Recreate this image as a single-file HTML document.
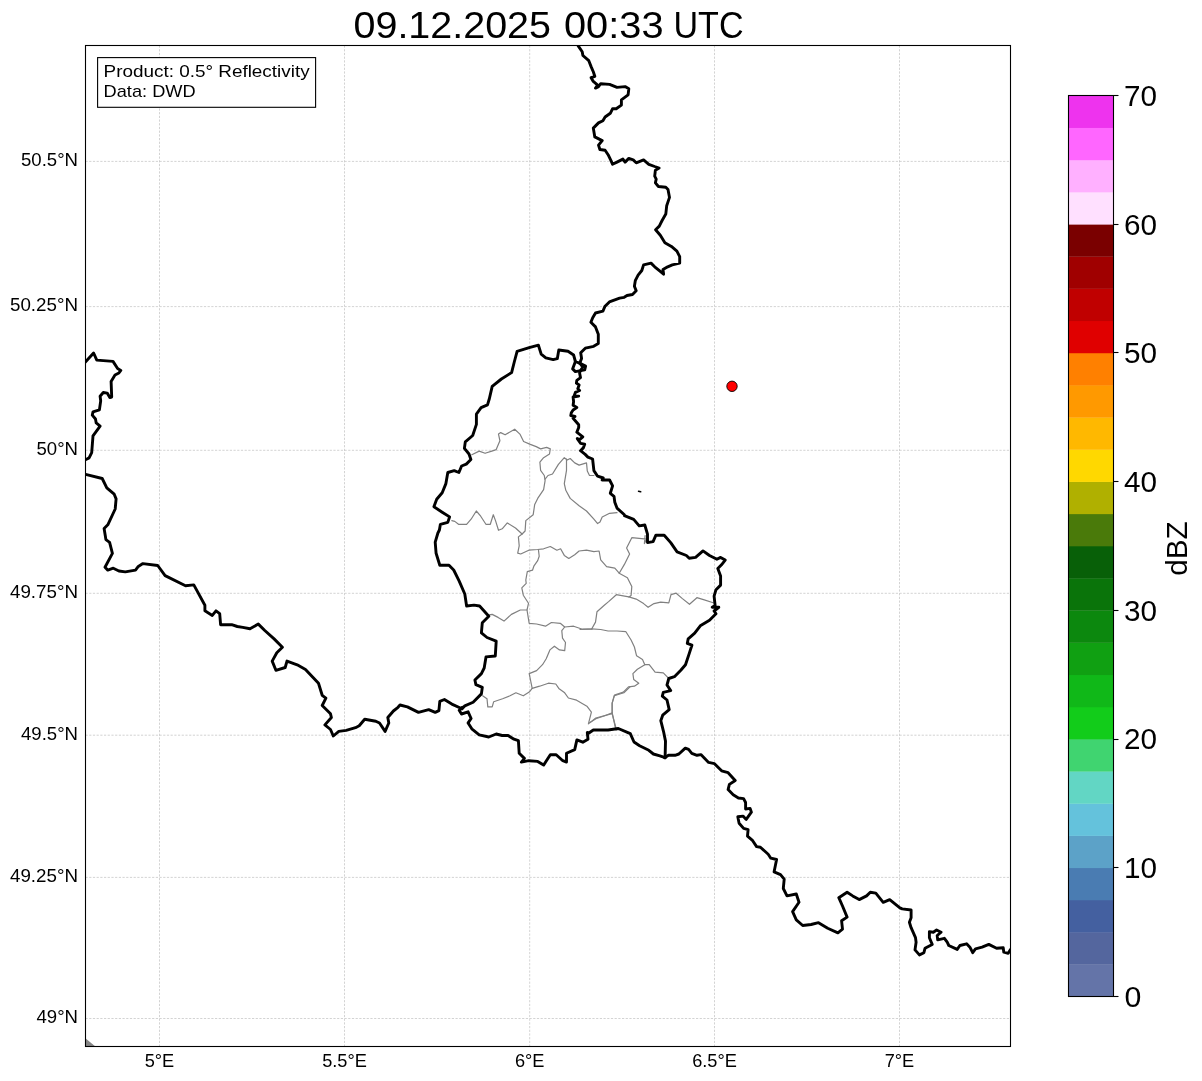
<!DOCTYPE html><html><head><meta charset="utf-8"><style>html,body{margin:0;padding:0;background:#fff;overflow:hidden}svg{display:block;will-change:transform}</style></head><body><svg width="1202" height="1081" viewBox="0 0 1202 1081"><rect width="100%" height="100%" fill="#fff"/><defs><clipPath id="ax"><rect x="85.5" y="45.5" width="925" height="1001"/></clipPath></defs><g stroke="#c8c8c8" stroke-width="0.8" stroke-dasharray="2.2 1.5" fill="none"><line x1="159.5" y1="45.5" x2="159.5" y2="1046.5"/><line x1="344.5" y1="45.5" x2="344.5" y2="1046.5"/><line x1="529.7" y1="45.5" x2="529.7" y2="1046.5"/><line x1="714.5" y1="45.5" x2="714.5" y2="1046.5"/><line x1="899.5" y1="45.5" x2="899.5" y2="1046.5"/><line x1="85.5" y1="161.4" x2="1010.5" y2="161.4"/><line x1="85.5" y1="306.6" x2="1010.5" y2="306.6"/><line x1="85.5" y1="450.3" x2="1010.5" y2="450.3"/><line x1="85.5" y1="593.3" x2="1010.5" y2="593.3"/><line x1="85.5" y1="735.2" x2="1010.5" y2="735.2"/><line x1="85.5" y1="877.4" x2="1010.5" y2="877.4"/><line x1="85.5" y1="1018.5" x2="1010.5" y2="1018.5"/></g><g clip-path="url(#ax)" fill="none" stroke-linejoin="round" stroke-linecap="round"><path d="M471.8,454.8 L479.2,451.1 L485.1,453.3 L491.8,451.1 L496.2,449.6 L499.9,440.7 L498.5,434.1 L500.7,432.6 L505.1,434.8 L514.7,429.2 L519.9,434.1 L523.6,441.5 L530.3,444.4 L536.2,446.6 L540.6,448.9 L546.6,447.4 L550.3,448.9 L549.5,454 L543.6,457.7 L539.9,462.2 L540.6,470.3 L544.3,475.5 L545.1,480.7 L543.6,489.6 L537.7,498.4 L534.7,504.4 L533.2,514.7 L525.8,520.6 L525.1,531 L522.1,534" stroke="#808080" stroke-width="1.2"/><path d="M545.1,479.2 L548,475.5 L552.5,474 L558.4,464.4 L564.3,457.7 L567.3,460 L570.2,458.5 L574.7,462.9 L579.1,465.1 L586.5,462.9 L587.3,471.1 L589.5,475.5 L593.9,475.5" stroke="#808080" stroke-width="1.2"/><path d="M566.5,459.2 L566.5,470.3 L564.3,483.6 L565.8,490.3 L570.2,498.4 L579.1,505.8 L586.5,511 L593.9,519.2 L597.6,523.6 L600,522.1 L602.2,517 L609.6,513.3 L617,512.6" stroke="#808080" stroke-width="1.2"/><path d="M451.8,520.6 L454.8,521.4 L458.5,524.3 L466.6,524.3 L471.1,519.2 L476.3,511 L480.7,516.2 L485.9,524.3 L490.3,524.3 L493.3,514.7 L495.5,520.6 L498.5,530.3 L502.2,528.8 L507.3,522.9 L515.5,528 L522.1,534 L518.4,536.9 L519.2,545.8 L517.7,553.2 L520.7,554 L528.8,550.2 L537.7,549.5 L543.6,548.8 L550.3,546.5 L556.9,550.2 L560.6,548.8 L564.3,555.4 L568.8,558.4 L574.7,554.7 L579.1,551 L586.5,550.2 L593.9,551.7 L599.1,551 L600.7,559.9 L606.6,566.6 L614.8,568.1 L619.2,573.2 L627.4,577.7 L631.8,586.6 L631.1,595.4 L628.8,596.9 L636.2,599.1 L643.6,603.6 L648.1,607.3 L654,603.6 L660.7,602.1 L668.8,602.8 L671,594.7 L676.2,593.2 L682.1,598.4 L689.5,604.3 L696.9,597.7 L704.3,599.9 L713.2,602.8" stroke="#808080" stroke-width="1.2"/><path d="M538.4,549.5 L539.2,556.2 L537.7,560.6 L534,565.8 L532.5,570.2 L527.3,571.7 L525.8,580 L526.2,583.3 L521.8,587.8 L523.3,595.2 L528.5,603.3 L527,610 L529.2,623.3 L536.6,624 L545.5,626.2 L551.4,622.5 L560.3,623.3 L564.7,627 L573.6,626.2 L582.5,629.2 L592.1,629.2" stroke="#808080" stroke-width="1.2"/><path d="M645.1,535.5 L644.4,543.6 L646.6,539.2 L631.8,537.7 L626.6,548.1 L629.6,554 L624.4,564.4 L619.2,573.2" stroke="#808080" stroke-width="1.2"/><path d="M628.8,596.9 L616.3,594.7 L608.9,601.4 L603.7,605.8 L597,611.7 L595.5,622.1 L591.8,628.8 L580,629.5" stroke="#808080" stroke-width="1.2"/><path d="M591.8,628.8 L600.7,629.5 L608.1,631 L617,631 L625.9,631.7 L631.1,640 L634.4,647 L636.6,655.8 L642.5,659.5 L644.8,664.7 L649.2,664.7 L655.1,672.1 L663.3,672.9 L669.2,678.8" stroke="#808080" stroke-width="1.2"/><path d="M487.8,615.1 L492.2,614.4 L498.1,617.4 L504,621.1 L511.4,614.4 L520.3,610 L527,610" stroke="#808080" stroke-width="1.2"/><path d="M564.7,627 L561.8,630.7 L562.5,638.1 L565.5,642.5 L564.7,650.7 L559.5,649.9 L554.4,646.2 L549.9,649.9 L546.2,658.8 L542.5,664.7 L536.6,670.6 L529.2,673.6 L530.7,681 L532.2,688.4" stroke="#808080" stroke-width="1.2"/><path d="M532.2,688.4 L529.2,692.1 L523.3,695.8 L515.9,692.8 L510,695.8 L502.6,698.8 L493.7,701.7 L492.2,706.9 L487.8,706.9 L487,698.8 L482.6,695.8" stroke="#808080" stroke-width="1.2"/><path d="M532.2,688.4 L539.6,686.2 L548.4,683.2 L555.8,684 L558.8,688.4 L564.7,692.8 L568.4,698 L576.6,700.2 L586.9,706.2 L591.4,712.1 L588.4,723.9 L595.8,718 L612.1,713.6 L616.5,730" stroke="#808080" stroke-width="1.2"/><path d="M612.1,713.6 L612.1,703.2 L614.3,695.8 L623.9,692.8 L630,686.9" stroke="#808080" stroke-width="1.2"/><path d="M644.8,664.7 L637.4,669.2 L632.9,673.6 L633.7,679.5 L638.8,683.2 L634.4,686.2 L628.5,686.9 L623.3,692.1 L614.4,695.1 L612.2,703.2 L612.2,712.8 L615.9,730" stroke="#808080" stroke-width="1.2"/><path d="M612.2,712.8 L604.8,715.8 L595.9,718.8 L590,722.5" stroke="#808080" stroke-width="1.2"/><path d="M578.2,45.9 L582.2,51.8 L582.9,55.5 L588.8,60.7 L591.1,66.6 L593.3,71.8 L594.8,76.3 L591.1,77.7 L593.3,81.4 L597.7,85.1 L595.5,88.1 L598.5,86.6 L600.7,83.7 L609.6,84.4 L617,87.4 L625.1,86.6 L628.8,88.8 L628.1,94.8 L621.4,99.9 L621.4,105.1 L616.2,108.8 L612.5,108.8 L610.3,113.3 L605.1,117 L602.9,120.7 L598.5,122.9 L593.3,128.1 L594.8,136.9 L602.2,140.6 L598.5,145.1 L599.9,149.5 L605.1,150.3 L608.1,154.7 L611,160.6 L612.5,164.3 L617,162.1 L622.9,159.1 L625.1,162.1 L628.8,158.4 L633.2,159.9 L636.2,162.8 L643.6,159.9 L648.8,164.3 L654.7,166.5 L659.1,168 L655.4,170.2 L654.7,176.2 L656.2,179.1 L655.4,182.8 L658.4,186.5 L665.8,187.3 L668,189.5 L669.5,197.4 L666.7,205.7 L665.8,214.1 L662.1,220.5 L659.3,226.1 L655.6,229.8 L660.3,235.3 L664.9,242.7 L671.4,246.4 L676.9,251.1 L679.7,256.6 L679.7,263.1 L672.3,264.9 L667.7,266.8 L663,269.6 L663.6,274.2 L660.3,271.4 L654.7,266.8 L651,263.1 L643.6,264.9 L641.8,270.5 L638.1,275.1 L635.3,280.7 L634.4,286.2 L636.2,290.8 L632.5,294.5 L627,295.5 L624.2,297.3 L619.6,298.2 L609.4,301.9 L604.8,306.6 L602.9,311.2 L595.5,313 L592.7,317.7 L590.9,322.3 L595.5,326.9 L598.3,334.3 L598.3,343.6 L593.7,346.3 L589,347.3 L585.3,348.2 L583.5,350 L580.7,352.8 L581.6,358.4 L579.8,363" stroke="#000" stroke-width="2.9"/><path d="M580,363.3 L575.4,361.5 L573.6,355 L568,351.3 L558.8,350 L557.3,358.7 L553.2,359.6 L545.8,357.8 L541.2,354.1 L538.4,345.2 L529.2,347.6 L517.1,351.3 L514.4,361.5 L511.6,372.6 L501.4,379 L492.2,386.4 L489.4,398.5 L487.5,404.9 L481.1,407.7 L476.4,414.2 L476.4,424.4 L472.7,435.5 L465.3,441.9 L464.4,448.4 L469,454 L470.9,459.5 L466.3,464.1 L461.6,466 L458.9,472.5 L454.2,470.6 L447.8,472.5 L445.9,483.6 L442.2,492.8 L436.7,499.3 L433.9,506.7 L442.2,512.2 L449.6,516.9 L447.8,522.4 L440.4,524.3 L439.4,530 L437.9,533 L435.2,542.2 L436.1,553.3 L439.8,565.3 L449,565.3 L453.7,570 L459.2,581.1 L464.8,594 L466.6,606 L474,605.1 L479.6,606 L488.8,616.2 L482.3,622.7 L481.4,632.9 L487,637.5 L496.2,641.2 L495.3,656 L486,656.9 L484.2,668 L481.4,673.6 L474.9,680 L475.9,684.7 L482.3,687.4 L481.4,693.9 L473.1,702.2 L464.8,705.9 L462,708.7" stroke="#000" stroke-width="2.9"/><path d="M580,363.3 L585.6,366.1 L584.7,369.8 L575.4,371.6 L572.6,368.9 L575.4,361.5" stroke="#000" stroke-width="2.9"/><path d="M580,363.3 L582.8,367 L580,371.6 L579.6,373 L580.5,377.6 L576.8,380.4 L576.4,383.1 L579.1,385 L577.8,388.7 L579.6,390.5 L575.4,392.4 L574.1,396.1 L578.7,396.1 L573.1,397 L573.6,401.6 L573.1,405.3 L576.8,407.6 L573.1,410 L571.3,412.7 L570.8,415.5 L575,416.4 L573.1,418.3 L578.7,424.8 L578.7,427.5 L576.8,432.2 L582.8,436.8 L579.6,439.6 L577.3,438.6 L580.5,443.3 L584.7,444.2 L583.3,447.9 L580.5,450.7 L585.2,454.4 L587.9,457.1 L592.6,459 L593.9,470.6 L597.6,476.2 L603.2,478 L602.2,480 L609.6,480 L612.6,485.9 L610.3,493.3 L614,496.3 L614.8,502.2 L617,508.1 L624.4,514.8 L624.4,515.7 L633.7,519.4 L639.2,525.9 L644.8,525 L647.5,534.2 L647.5,542.6 L653.1,541.6 L655.9,535.2 L664.2,535.2 L670.7,542.6 L677.1,551.8 L686.4,555.5 L689.2,558.3 L695.6,557.4 L703,550.9 L709.5,555.5 L716.9,559.2 L720.6,557.4 L725.2,560.1 L721.5,564.8 L717.8,568.5 L720.6,575.9 L720.6,585.1 L716,589.7 L714.1,596.2 L715.1,605.5 L712.3,607.3 L718.8,607.3 L714.1,611 L716,613.8 L709.5,620.3 L700.3,625.8 L694.7,633.2 L688.2,638.8 L687.3,643.4 L691.9,645.2 L689.2,653.6 L685.5,664.7 L680.8,670.2 L674.4,676.7 L668.8,678.5 L667,685 L670.7,690.6 L663.3,692.4 L662.3,696.1 L667,700 L669.2,709.6 L662.7,715.2 L660.8,720.7 L663.6,731.8 L665.5,741.1 L665.1,757.7" stroke="#000" stroke-width="2.9"/><path d="M462.2,707.4 L459.2,710.3 L461.5,714 L468.1,711.8 L471.1,718.5 L468.1,722.9 L471.8,728.8 L479.2,734.8 L488.8,737 L496.2,734 L502.2,735.5 L508.1,735.5 L514,739.2 L518.4,740.7 L519.2,753.3 L524.4,758.4 L521.4,762.1 L528.8,760.7 L537.7,761.4 L543.6,765.1 L550.3,754.7 L556.2,754.7 L562.8,760.7 L566.5,762.1 L566.5,753.3 L574.7,749.6 L576.9,739.9 L582.8,742.2 L588,739.2 L587.3,732.5 L587.8,733.7 L593.3,730 L608.1,730 L618.3,728.5 L630.3,733.7 L634,742 L639.6,745.7 L648.8,750.3 L653.4,754 L659.9,755.9 L665.1,757.7" stroke="#000" stroke-width="2.9"/><path d="M664.6,757.8 L668.5,755.3 L675,755.3 L678.9,754 L685.3,748.1 L688.6,749.4 L691.8,753.3 L697,755.3 L700.9,754.6 L708.6,762.4 L714.5,763.7 L721.6,770.8 L728.1,772.7 L735.2,780.5 L729.4,784.4 L728.1,789.6 L733.2,794.8 L738.4,798 L743.6,798.6 L745.6,802.5 L745.6,809 L750.1,808.4 L751.4,812.2 L746.2,819.4 L743,816.1 L737.8,816.8 L739.1,823.2 L743.6,828.4 L748.1,829.7 L747.5,836.2 L752.7,840.7 L756.6,846.6 L760.4,847.2 L768.2,854.3 L770.8,858.2 L776.6,859.5 L774.1,871.8 L780.5,874.6 L784.2,879.2 L783.3,888.5 L787,895.9 L796.3,894 L799,902.3 L792.6,911.6 L796.3,919.9 L802.7,925.5 L811.1,924.5 L818.5,922.7 L827.7,928.2 L837.9,932.9 L842.5,929.2 L841.6,920.8 L847.1,917.1 L842.5,906 L838.8,897.7 L847.1,892.2 L852.7,895.9 L859.2,899.6 L866.6,895.9 L870.3,892.2 L875.8,893.1 L883.2,902.3 L889.7,899.6 L899.9,907.9 L902.2,908.9 L911.1,910 L911.1,917.7 L909.4,922.2 L911.1,927.7 L915.5,937.7 L916.1,942.2 L915,949.9 L919.4,954.9 L923.9,952.7 L925,948.3 L932.2,944.4 L929.4,937.7 L929.4,931.6 L933.3,932.2 L936.6,930 L941.1,932.2 L937.2,935.5 L937.7,939.9 L944.4,938.3 L947.2,942.2 L948.8,945.5 L957.2,949.4 L959.9,945.5 L966.6,943.8 L969.9,947.2 L972.7,952.7 L975.5,948.8 L982.1,947.2 L988.8,944.4 L996.6,948.3 L1003.2,947.7 L1003.8,952.2 L1008.2,953.3 L1010.5,949.4" stroke="#000" stroke-width="2.9"/><path d="M462,708.7 L451.8,704.1 L444.4,699.5 L439.8,701.3 L438.9,710.6 L435.2,712.4 L428.7,709.6 L418.5,712.4 L407.4,706.9 L400,705 L398,707.3 L393.4,711 L387.8,717.5 L388.8,723 L385.1,731.4 L379.5,723 L375.8,721.2 L364.7,719.3 L359.2,725.8 L355.5,727.7 L346.2,730.4 L338.8,731.4 L333.3,736 L330.5,729.5 L324.9,724.9 L331.4,717.5 L330.5,713.8 L322.2,705.5 L325.9,698.1 L322.2,695.3 L318.5,683.3 L305.5,669.4 L297.2,664.8 L287,661.1 L285.2,667.5 L275.9,670.3 L272.2,661.1 L276.8,652.7 L282.4,647.2 L274.1,638.9 L264.8,630.5 L258.3,624.1 L250,628.7 L242.8,627.4 L237.3,626.5 L231.7,624.7 L220.6,624.7 L219.7,613.6 L216,610.8 L212.3,615.4 L204.9,610.8 L204.9,605.2 L193.8,584.9 L185.5,585.8 L165.1,575.6 L157.7,565.5 L142.9,563.6 L138.3,566.4 L135.5,570.1 L125.3,571.9 L118.9,571 L113.3,568.2 L107.8,570.1 L105,567.3 L112.4,553.4 L109.6,542.3 L105.9,539.6 L104.1,528.5 L107.8,524.8 L115.2,509 L116.1,498.9 L114.2,494.2 L106.8,487.8 L102.2,478.5 L85.6,474.4" stroke="#000" stroke-width="2.9"/><path d="M85.4,362 L93.6,353 L96.8,360.1 L113,361.4 L117.6,368.5 L120.8,370.4 L118.9,373 L115,375 L111.1,381.4 L111.7,397 L109.8,397.6 L107.2,393.1 L103.3,392.5 L100.1,396.3 L100.7,400.9 L99.4,409.9 L93,411.9 L92.3,415.1 L95.5,419 L96.2,422.9 L100.1,426.1 L93,435.8 L91.7,452.7 L89.1,457.9 L85.4,459.8" stroke="#000" stroke-width="2.9"/><path d="M638.5,491.2 L640.7,491.8" stroke="#000" stroke-width="1.5"/></g><path d="M85.7,1038.5 L85.7,1046 L94.8,1046 Z" fill="#858585"/><circle cx="732" cy="386.3" r="5.2" fill="#f00" stroke="#000" stroke-width="0.9"/><rect x="85.5" y="45.5" width="925.0" height="1001.0" fill="none" stroke="#000" stroke-width="1.1"/><text x="353.5" y="38.2" font-family="'Liberation Sans', sans-serif" font-size="36.5" textLength="197.5" lengthAdjust="spacingAndGlyphs">09.12.2025</text><text x="564" y="38.2" font-family="'Liberation Sans', sans-serif" font-size="36.5" textLength="99.5" lengthAdjust="spacingAndGlyphs">00:33</text><text x="673.5" y="38.2" font-family="'Liberation Sans', sans-serif" font-size="36.5" textLength="70" lengthAdjust="spacingAndGlyphs">UTC</text><text x="78.0" y="165.8" font-family="'Liberation Sans', sans-serif" font-size="18.2" text-anchor="end" textLength="57" lengthAdjust="spacingAndGlyphs">50.5°N</text><text x="78.0" y="311.0" font-family="'Liberation Sans', sans-serif" font-size="18.2" text-anchor="end" textLength="68" lengthAdjust="spacingAndGlyphs">50.25°N</text><text x="78.0" y="454.7" font-family="'Liberation Sans', sans-serif" font-size="18.2" text-anchor="end" textLength="41.5" lengthAdjust="spacingAndGlyphs">50°N</text><text x="78.0" y="597.7" font-family="'Liberation Sans', sans-serif" font-size="18.2" text-anchor="end" textLength="68" lengthAdjust="spacingAndGlyphs">49.75°N</text><text x="78.0" y="739.6" font-family="'Liberation Sans', sans-serif" font-size="18.2" text-anchor="end" textLength="57" lengthAdjust="spacingAndGlyphs">49.5°N</text><text x="78.0" y="881.8" font-family="'Liberation Sans', sans-serif" font-size="18.2" text-anchor="end" textLength="68" lengthAdjust="spacingAndGlyphs">49.25°N</text><text x="78.0" y="1022.9" font-family="'Liberation Sans', sans-serif" font-size="18.2" text-anchor="end" textLength="41.5" lengthAdjust="spacingAndGlyphs">49°N</text><text x="159.5" y="1067" font-family="'Liberation Sans', sans-serif" font-size="18.2" text-anchor="middle">5°E</text><text x="344.5" y="1067" font-family="'Liberation Sans', sans-serif" font-size="18.2" text-anchor="middle">5.5°E</text><text x="529.7" y="1067" font-family="'Liberation Sans', sans-serif" font-size="18.2" text-anchor="middle">6°E</text><text x="714.5" y="1067" font-family="'Liberation Sans', sans-serif" font-size="18.2" text-anchor="middle">6.5°E</text><text x="899.5" y="1067" font-family="'Liberation Sans', sans-serif" font-size="18.2" text-anchor="middle">7°E</text><rect x="97.6" y="57.6" width="218" height="49.7" fill="#fff" stroke="#000" stroke-width="1.1"/><text x="103.6" y="77" font-family="'Liberation Sans', sans-serif" font-size="17" textLength="206" lengthAdjust="spacingAndGlyphs">Product: 0.5° Reflectivity</text><text x="103.6" y="96.9" font-family="'Liberation Sans', sans-serif" font-size="17" textLength="92" lengthAdjust="spacingAndGlyphs">Data: DWD</text><rect x="1068.5" y="964.32" width="45.0" height="32.48" fill="#6474a8"/><rect x="1068.5" y="932.14" width="45.0" height="32.48" fill="#54669e"/><rect x="1068.5" y="899.96" width="45.0" height="32.48" fill="#4460a0"/><rect x="1068.5" y="867.79" width="45.0" height="32.48" fill="#4a7cb2"/><rect x="1068.5" y="835.61" width="45.0" height="32.48" fill="#5ca2c8"/><rect x="1068.5" y="803.43" width="45.0" height="32.48" fill="#64c2dc"/><rect x="1068.5" y="771.25" width="45.0" height="32.48" fill="#62d6c4"/><rect x="1068.5" y="739.07" width="45.0" height="32.48" fill="#40d470"/><rect x="1068.5" y="706.89" width="45.0" height="32.48" fill="#12cc1a"/><rect x="1068.5" y="674.71" width="45.0" height="32.48" fill="#10b818"/><rect x="1068.5" y="642.54" width="45.0" height="32.48" fill="#10a012"/><rect x="1068.5" y="610.36" width="45.0" height="32.48" fill="#0c880e"/><rect x="1068.5" y="578.18" width="45.0" height="32.48" fill="#0a740a"/><rect x="1068.5" y="546.00" width="45.0" height="32.48" fill="#086008"/><rect x="1068.5" y="513.82" width="45.0" height="32.48" fill="#4a7a0a"/><rect x="1068.5" y="481.64" width="45.0" height="32.48" fill="#b0b000"/><rect x="1068.5" y="449.46" width="45.0" height="32.48" fill="#ffd800"/><rect x="1068.5" y="417.29" width="45.0" height="32.48" fill="#ffb800"/><rect x="1068.5" y="385.11" width="45.0" height="32.48" fill="#ff9900"/><rect x="1068.5" y="352.93" width="45.0" height="32.48" fill="#ff8000"/><rect x="1068.5" y="320.75" width="45.0" height="32.48" fill="#e00000"/><rect x="1068.5" y="288.57" width="45.0" height="32.48" fill="#c00000"/><rect x="1068.5" y="256.39" width="45.0" height="32.48" fill="#a00000"/><rect x="1068.5" y="224.21" width="45.0" height="32.48" fill="#7a0000"/><rect x="1068.5" y="192.04" width="45.0" height="32.48" fill="#ffe0ff"/><rect x="1068.5" y="159.86" width="45.0" height="32.48" fill="#ffb0ff"/><rect x="1068.5" y="127.68" width="45.0" height="32.48" fill="#ff66ff"/><rect x="1068.5" y="95.50" width="45.0" height="32.48" fill="#ee33ee"/><rect x="1068.5" y="95.5" width="45.0" height="901.0" fill="none" stroke="#000" stroke-width="1.1"/><line x1="1113.5" y1="996.5" x2="1118.5" y2="996.5" stroke="#000" stroke-width="1.1"/><text x="1124.5" y="1006.80" font-family="'Liberation Sans', sans-serif" font-size="30.3">0</text><line x1="1113.5" y1="867.5" x2="1118.5" y2="867.5" stroke="#000" stroke-width="1.1"/><text x="1124" y="878.09" font-family="'Liberation Sans', sans-serif" font-size="30.3" textLength="33" lengthAdjust="spacingAndGlyphs">10</text><line x1="1113.5" y1="739.5" x2="1118.5" y2="739.5" stroke="#000" stroke-width="1.1"/><text x="1124" y="749.37" font-family="'Liberation Sans', sans-serif" font-size="30.3" textLength="33" lengthAdjust="spacingAndGlyphs">20</text><line x1="1113.5" y1="610.5" x2="1118.5" y2="610.5" stroke="#000" stroke-width="1.1"/><text x="1124" y="620.66" font-family="'Liberation Sans', sans-serif" font-size="30.3" textLength="33" lengthAdjust="spacingAndGlyphs">30</text><line x1="1113.5" y1="481.5" x2="1118.5" y2="481.5" stroke="#000" stroke-width="1.1"/><text x="1124" y="491.94" font-family="'Liberation Sans', sans-serif" font-size="30.3" textLength="33" lengthAdjust="spacingAndGlyphs">40</text><line x1="1113.5" y1="352.5" x2="1118.5" y2="352.5" stroke="#000" stroke-width="1.1"/><text x="1124" y="363.23" font-family="'Liberation Sans', sans-serif" font-size="30.3" textLength="33" lengthAdjust="spacingAndGlyphs">50</text><line x1="1113.5" y1="224.5" x2="1118.5" y2="224.5" stroke="#000" stroke-width="1.1"/><text x="1124" y="234.51" font-family="'Liberation Sans', sans-serif" font-size="30.3" textLength="33" lengthAdjust="spacingAndGlyphs">60</text><line x1="1113.5" y1="95.5" x2="1118.5" y2="95.5" stroke="#000" stroke-width="1.1"/><text x="1124" y="105.80" font-family="'Liberation Sans', sans-serif" font-size="30.3" textLength="33" lengthAdjust="spacingAndGlyphs">70</text><text transform="translate(1187.1,548.6) rotate(-90)" font-family="'Liberation Sans', sans-serif" font-size="29.6" text-anchor="middle" textLength="54.5" lengthAdjust="spacingAndGlyphs">dBZ</text></svg></body></html>
